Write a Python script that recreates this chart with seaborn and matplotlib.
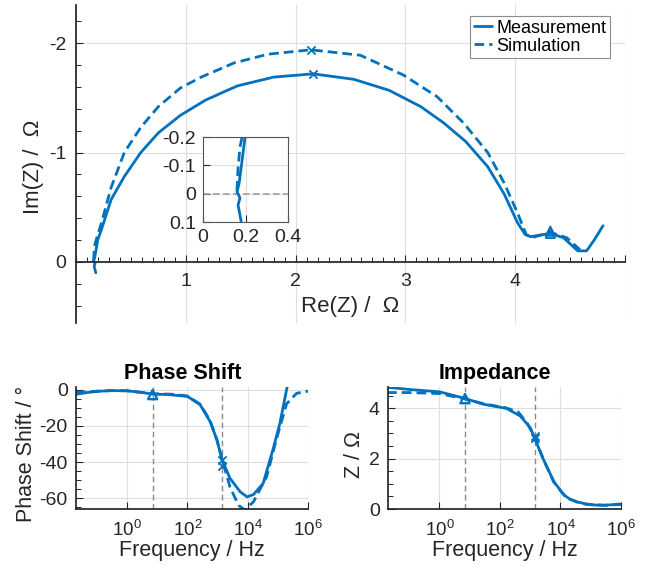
import numpy as np
import pandas as pd
import matplotlib
matplotlib.use("Agg")
import matplotlib.pyplot as plt
import seaborn as sns

# Nyquist data (Re, Im in Ohm)
meas_re = [0.18, 0.165, 0.174, 0.16, 0.17, 0.18, 0.198, 0.23, 0.32, 0.44, 0.59, 0.75, 0.95, 1.18,
           1.47, 1.80, 2.16, 2.53, 2.85, 3.14, 3.35, 3.55, 3.75, 3.90, 4.02, 4.09, 4.14, 4.32,
           4.44, 4.57, 4.65, 4.72, 4.80]
meas_im = [0.10, 0.04, 0.015, -0.006, -0.037, -0.094, -0.20, -0.29, -0.57, -0.78, -1.00, -1.18,
           -1.34, -1.48, -1.61, -1.69, -1.72, -1.67, -1.57, -1.42, -1.27, -1.10, -0.87, -0.62,
           -0.36, -0.25, -0.23, -0.26, -0.22, -0.10, -0.10, -0.20, -0.33]
sim_re = [0.16, 0.165, 0.174, 0.19, 0.23, 0.32, 0.38, 0.44, 0.59, 0.75, 0.95, 1.14, 1.44, 1.75,
          2.14, 2.59, 2.98, 3.29, 3.53, 3.75, 3.90, 4.02, 4.10, 4.15, 4.32, 4.47, 4.59]
sim_im = [-0.01, -0.09, -0.165, -0.22, -0.35, -0.68, -0.84, -1.00, -1.23, -1.42, -1.59, -1.69,
          -1.82, -1.90, -1.94, -1.89, -1.71, -1.51, -1.27, -1.00, -0.72, -0.45, -0.25, -0.22,
          -0.27, -0.22, -0.11]
# marked points (x: ~1.4 kHz, triangle: ~7 Hz)
cross_re = [2.16, 2.14]
cross_im = [-1.72, -1.94]
tri_re = [4.32, 4.32]
tri_im = [-0.26, -0.28]

# Bode data
phase_meas_f = [0.02, 0.05, 0.13, 0.3, 1, 3, 7.3, 20, 100, 263, 562, 955, 1413, 2570, 5623,
                9550, 15500, 32400, 69000, 117000, 200000, 230000]
phase_meas = [-2.5, -1.5, -0.8, -0.5, -0.6, -1.5, -2.5, -2.6, -3.7, -8.3, -17.6, -27.8, -38.9,
              -49.0, -56.5, -59.3, -58.0, -51.9, -33.0, -18.5, 1.0, 4.0]
phase_sim_f = [0.02, 0.1, 0.3, 1, 7, 30, 100, 263, 562, 955, 1413, 2600, 5000, 8000, 15500,
               42600, 91000, 195000, 417000, 1000000]
phase_sim = [-1.5, -0.8, -0.5, -0.6, -2.2, -2.5, -3.5, -8.0, -17.0, -28.0, -38.5, -54.0, -64.0,
             -66.5, -62.0, -48.0, -27.0, -7.8, -2.0, -0.8]
imp_meas_f = [0.0186, 0.13, 1, 6.8, 27.5, 166, 468, 1000, 1380, 2750, 6030, 12900, 20000, 36300,
              70000, 129000, 300000, 1000000]
imp_meas = [4.83, 4.73, 4.65, 4.39, 4.16, 3.99, 3.69, 3.23, 2.83, 1.96, 1.09, 0.56, 0.40, 0.28,
            0.20, 0.16, 0.15, 0.20]
imp_sim_f = [0.0186, 0.1, 1, 6.8, 30, 150, 400, 800, 1380, 2750, 6000, 13000, 20000, 36000,
             70000, 130000, 300000, 1000000]
imp_sim = [4.62, 4.62, 4.58, 4.37, 4.17, 4.02, 3.85, 3.40, 2.85, 1.95, 1.07, 0.56, 0.39, 0.27,
           0.19, 0.16, 0.15, 0.18]
mark_f = [7.0, 1400.0]
phase_cross = [-39.0, -42.0]
phase_tri = [-2.5, -2.8]
imp_cross = [2.83, 2.90]
imp_tri = [4.39, 4.37]

blue = "#0072BD"
dark = "#262626"
gridc = "#dedede"

sns.set_theme(style="ticks")
plt.rcParams["font.family"] = ["Liberation Sans", "DejaVu Sans"]
plt.rcParams["mathtext.fontset"] = "custom"
plt.rcParams["mathtext.rm"] = "Liberation Sans"
plt.rcParams["axes.unicode_minus"] = False
plt.rcParams["axes.edgecolor"] = dark
plt.rcParams["xtick.color"] = dark
plt.rcParams["ytick.color"] = dark
plt.rcParams["text.color"] = "black"
plt.rcParams["axes.labelcolor"] = dark

nyq_meas = pd.DataFrame({"re": meas_re, "im": meas_im})
nyq_sim = pd.DataFrame({"re": sim_re, "im": sim_im})
ph_meas = pd.DataFrame({"f": phase_meas_f, "v": phase_meas})
ph_sim = pd.DataFrame({"f": phase_sim_f, "v": phase_sim})
z_meas = pd.DataFrame({"f": imp_meas_f, "v": imp_meas})
z_sim = pd.DataFrame({"f": imp_sim_f, "v": imp_sim})

dash = (0, (3.5, 1.8))
W, H = 655, 573
fig = plt.figure(figsize=(W / 100, H / 100), dpi=100)


def px_axes(l, t, r, b):
    return fig.add_axes([l / W, 1 - b / H, (r - l) / W, (b - t) / H])


def style_ticks(ax, size=14, pad=6):
    ax.tick_params(direction="in", labelsize=size, pad=pad, width=0.8, length=5, colors=dark)
    ax.tick_params(which="minor", direction="in", width=0.7, length=3.5, colors=dark)


def draw_nyquist(ax):
    sns.lineplot(data=nyq_meas, x="re", y="im", sort=False, estimator=None, color=blue,
                 lw=2, ax=ax, label="Measurement")
    sns.lineplot(data=nyq_sim, x="re", y="im", sort=False, estimator=None, color=blue,
                 lw=2, linestyle=dash, ax=ax, label="Simulation")
    sns.scatterplot(x=cross_re, y=cross_im, marker="x", color=blue, s=35, linewidth=1.3, ax=ax, zorder=4)
    sns.scatterplot(x=tri_re, y=tri_im, marker="^", facecolor="none", edgecolor=blue, s=45,
                    linewidth=1.3, ax=ax, zorder=4)


# main Nyquist plot
ax = px_axes(76, 5, 625, 323)
draw_nyquist(ax)
ax.set_xlim(0, 5)
ax.set_ylim(0.56, -2.35)
ax.set_xticks([0, 1, 2, 3, 4, 5])
ax.set_xticklabels(["", "1", "2", "3", "4", ""])
ax.set_yticks([-2, -1, 0])
ax.set_xticks(np.arange(0, 5.01, 0.1), minor=True)
ax.set_yticks(np.arange(-2.2, 0.56, 0.2), minor=True)
ax.spines["bottom"].set_position(("data", 0))
ax.spines["top"].set_visible(False)
ax.spines["right"].set_visible(False)
ax.grid(True, which="major", color=gridc, lw=0.8)
style_ticks(ax, pad=7)
ax.tick_params(axis="x", pad=8)
ax.set_xlabel("Re(Z) /  Ω", fontsize=16)
ax.set_ylabel("Im(Z) /  Ω", fontsize=16)
ax.xaxis.set_label_coords(0.5, 0.085)
ax.yaxis.set_label_coords(-0.058, 0.49)
leg = ax.legend(loc="upper right", bbox_to_anchor=(0.973, 0.965), borderaxespad=0, fontsize=13,
                handlelength=1.0, handletextpad=0.25, borderpad=0.2, labelspacing=0.05,
                fancybox=False, framealpha=1, edgecolor="#8c8c8c")
leg.get_frame().set_linewidth(0.8)

# inset zoom around the origin
ins = px_axes(203, 137, 288, 222)
draw_nyquist(ins)
ins.get_legend().remove()
ins.axhline(0, color="#a0a0a0", lw=1.2, ls=(0, (4, 2)), zorder=1)
ins.set_xlim(0, 0.4)
ins.set_ylim(0.1, -0.2)
ins.set_xticks([0, 0.2, 0.4])
ins.set_yticks([-0.2, -0.1, 0, 0.1])
ins.set_xticklabels(["0", "0.2", "0.4"])
ins.set_yticklabels(["-0.2", "-0.1", "0", "0.1"])
ins.grid(True, color=gridc, lw=0.8)
ins.set_xlabel("")
ins.set_ylabel("")
for s in ins.spines.values():
    s.set_color("#555555")
    s.set_linewidth(0.8)
style_ticks(ins, pad=5)


def bode(ax, d_meas, d_sim, cross, tri, title, ylabel):
    sns.lineplot(data=d_meas, x="f", y="v", color=blue, lw=2, estimator=None, ax=ax)
    sns.lineplot(data=d_sim, x="f", y="v", color=blue, lw=2, linestyle=dash, estimator=None, ax=ax)
    for f0 in mark_f:
        ax.axvline(f0, color="#8a8a8a", lw=1.0, ls=(0, (4, 2.5)), zorder=1)
    sns.scatterplot(x=[mark_f[1]] * 2, y=cross, marker="x", color=blue, s=35, linewidth=1.3,
                    ax=ax, zorder=4)
    sns.scatterplot(x=[mark_f[0]] * 2, y=tri, marker="^", facecolor="none", edgecolor=blue,
                    s=45, linewidth=1.3, ax=ax, zorder=4)
    ax.set_xscale("log")
    ax.set_xlim(0.02, 1e6)
    ax.set_xticks([1, 1e2, 1e4, 1e6])
    ax.xaxis.set_minor_locator(matplotlib.ticker.NullLocator())
    ax.grid(True, which="major", color=gridc, lw=0.8)
    ax.spines["top"].set_visible(False)
    ax.spines["right"].set_visible(False)
    style_ticks(ax, pad=6)
    ax.tick_params(axis="x", pad=8, labelsize=13.5)
    ax.set_title(title, fontsize=15.5, fontweight="bold", pad=6, x=0.46)
    ax.set_xlabel("Frequency / Hz", fontsize=15.5, labelpad=0)
    ax.set_ylabel(ylabel, fontsize=15.5)


ax_ph = px_axes(76, 387, 308, 509)
bode(ax_ph, ph_meas, ph_sim, phase_cross, phase_tri, "Phase Shift", "Phase Shift / °")
ax_ph.set_ylim(-66, 1.5)
ax_ph.set_yticks([-60, -40, -20, 0])
ax_ph.set_yticks(np.arange(-65, 1, 5), minor=True)
ax_ph.yaxis.set_label_coords(-0.17, 0.45)

ax_z = px_axes(388, 387, 621, 509)
bode(ax_z, z_meas, z_sim, imp_cross, imp_tri, "Impedance", "Z / Ω")
ax_z.set_ylim(0, 4.84)
ax_z.set_yticks([0, 2, 4])
ax_z.set_yticks(np.arange(0, 4.84, 0.5), minor=True)
ax_z.yaxis.set_label_coords(-0.10, 0.45)

fig.savefig("out.png", dpi=100)
